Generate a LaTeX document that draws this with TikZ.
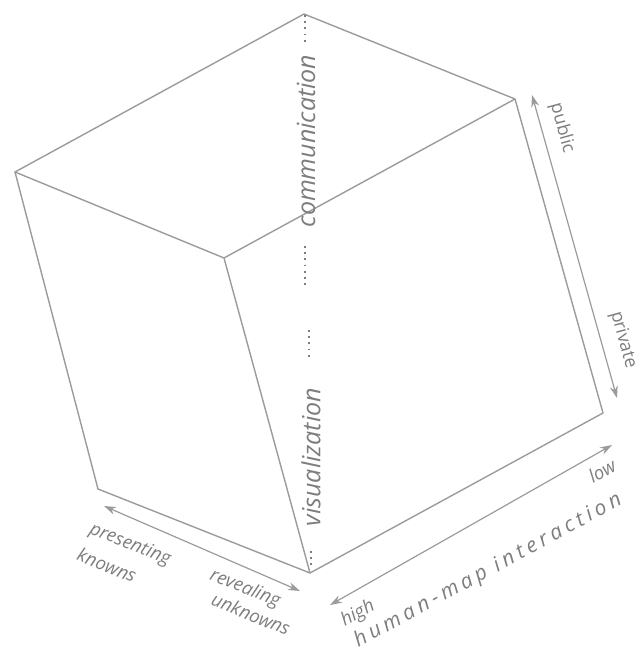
\documentclass[tikz,border=0pt]{standalone}
\usepackage{fontspec}
\setmainfont{Open Sans}
\usepackage{tikz}
\usetikzlibrary{arrows.meta}
\definecolor{edgegray}{RGB}{155,155,155}
\definecolor{textgray}{RGB}{125,125,125}

\begin{document}
\begin{tikzpicture}[x=0.5pt, y=-0.5pt, >={Stealth[length=6pt,width=4pt]},
    edge/.style={draw=edgegray, line width=0.7pt, line join=round},
    axis/.style={<->, draw=edgegray, line width=0.6pt},
    lab/.style={text=textgray, inner sep=0pt, font=\itshape\fontsize{9.2}{11}\selectfont},
    biglab/.style={text=textgray, inner sep=0pt, rotate=90, font=\itshape\fontsize{12.5}{14}\selectfont},
    dotline/.style={draw=textgray, line width=0.9pt, dash pattern=on 0.9pt off 2.2pt}]
    \useasboundingbox (0,0) rectangle (640,662);

    % Corners of the cube
    \coordinate (T) at (304,14);
    \coordinate (R) at (515,99);
    \coordinate (L) at (15,172);
    \coordinate (F) at (224,258);
    \coordinate (RB) at (603,413);
    \coordinate (LB) at (98,489);
    \coordinate (B) at (310,573);

    % Top face
    \draw[edge] (T) -- (R) -- (F) -- (L) -- cycle;
    % Left face
    \draw[edge] (L) -- (LB) -- (B) -- (F);
    % Right face
    \draw[edge] (R) -- (RB) -- (B);

    % Vertical labels
    \node[biglab] (comm) at (306,141) {communication};
    \node[biglab] (vis) at (311,457) {visualization};
    \coordinate (c1) at (305,15);
    \coordinate (c2) at (305,44);
    \coordinate (c3) at (305,246);
    \coordinate (c4) at (305,285);
    \coordinate (v1) at (309,330);
    \coordinate (v2) at (309,360);
    \coordinate (v3) at (311,551);
    \coordinate (v4) at (311,568);
    \draw[dotline] (c1) -- (c2);
    \draw[dotline] (c3) -- (c4);
    \draw[dotline] (v1) -- (v2);
    \draw[dotline] (v3) -- (v4);

    % public / private
    \coordinate (pubtip) at (532,95);
    \coordinate (privtip) at (617,398);
    \draw[axis] (pubtip) -- (privtip);
    \node[lab, rotate=-74.7, font=\fontsize{9}{10}\selectfont] (pub) at (562,128) {public};
    \node[lab, rotate=-74.7, font=\fontsize{9}{10}\selectfont] (priv) at (623,340) {private};

    % presenting knowns / revealing unknowns
    \coordinate (pktip) at (104,506);
    \coordinate (rutip) at (300,591);
    \draw[axis] (pktip) -- (rutip);
    \node[lab, rotate=-22] (pres) at (130,545) {presenting};
    \node[lab, rotate=-22] (kn) at (107,565) {knowns};
    \node[lab, rotate=-22] (rev) at (245,589) {revealing};
    \node[lab, rotate=-22] (unk) at (251,614) {unknowns};

    % human-map interaction
    \coordinate (hitip) at (330,605);
    \coordinate (lotip) at (612,445);
    \draw[axis] (hitip) -- (lotip);
    \node[lab, rotate=29] (high) at (358,614) {high};
    \node[lab, rotate=29] (low) at (602,471) {low};
    \node[lab, rotate=28.5, font=\itshape\fontsize{10.5}{12}\selectfont\addfontfeature{LetterSpace=20}] (hmi) at (488,571) {human-map interaction};
\end{tikzpicture}
\end{document}
